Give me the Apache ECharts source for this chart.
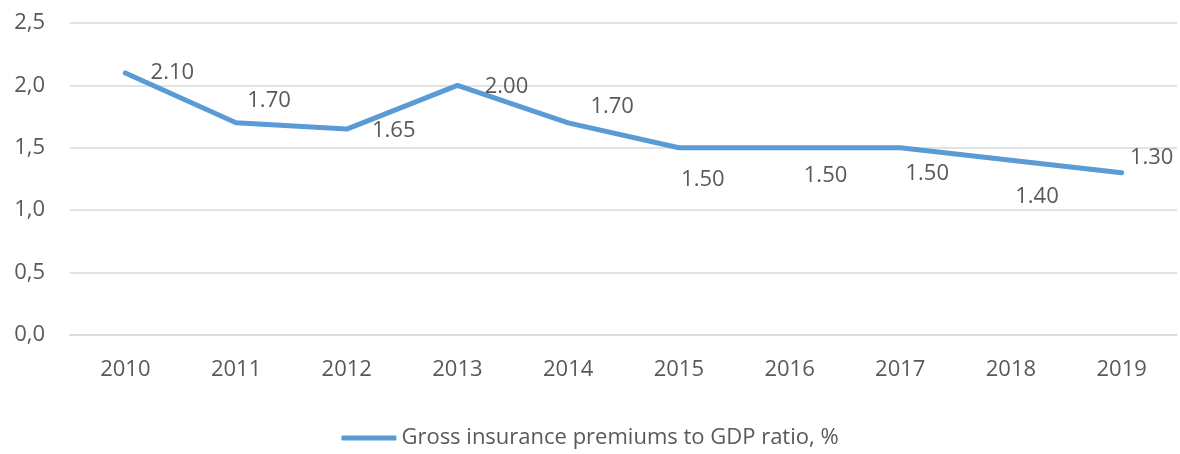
<!DOCTYPE html>
<html>
<head>
<meta charset="utf-8">
<script src="https://cdn.jsdelivr.net/npm/echarts@6/dist/echarts.min.js"></script>
<style>
  html, body { margin: 0; padding: 0; background: #fff; }
  #chart { width: 1180px; height: 454px; }
</style>
</head>
<body>
<div id="chart"></div>
<script>
// Gross insurance premiums to GDP ratio, 2010-2019
const years = ['2010', '2011', '2012', '2013', '2014', '2015', '2016', '2017', '2018', '2019'];
const ratioValues = [2.10, 1.70, 1.65, 2.00, 1.70, 1.50, 1.50, 1.50, 1.40, 1.30];
const seriesName = 'Gross insurance premiums to GDP ratio, %';

// label placement (pixel offsets from each point), as in the source chart
const labelOffsets = [
    [47, 0], [33, -22], [47, 2], [49, 1], [44, -16],
    [24, 32], [36, 28], [27, 26], [26, 36], [30, -15]
];

const textColor = '#595959';
const fontFamily = 'Open Sans, sans-serif';
const fontSize = 22;

const chart = echarts.init(document.getElementById('chart'), null, { renderer: 'canvas' });

chart.setOption({
    backgroundColor: '#ffffff',
    animation: false,
    grid: { left: 70, right: 3, top: 23, bottom: 119 },
    legend: {
        bottom: 0,
        left: 'center',
        icon: 'roundRect',
        itemWidth: 55,
        itemHeight: 5,
        textStyle: { color: textColor, fontFamily: fontFamily, fontSize: fontSize },
        data: [seriesName]
    },
    xAxis: {
        type: 'category',
        data: years,
        boundaryGap: true,
        axisLine: { show: true, lineStyle: { color: '#d9d9d9', width: 1.5 } },
        axisTick: { show: false },
        axisLabel: { color: textColor, fontFamily: fontFamily, fontSize: fontSize, margin: 24 }
    },
    yAxis: {
        type: 'value',
        min: 0,
        max: 2.5,
        interval: 0.5,
        axisLine: { show: false },
        axisTick: { show: false },
        axisLabel: {
            color: textColor, fontFamily: fontFamily, fontSize: fontSize, margin: 25,
            formatter: v => v.toFixed(1).replace('.', ',')
        },
        splitLine: { lineStyle: { color: '#d9d9d9', width: 1.5 } }
    },
    series: [{
        name: seriesName,
        type: 'line',
        data: ratioValues.map((v, i) => ({
            value: v,
            label: { offset: labelOffsets[i] }
        })),
        symbol: 'circle',
        symbolSize: 0.1,
        showSymbol: true,
        itemStyle: { color: '#5b9bd5' },
        lineStyle: { color: '#5b9bd5', width: 5, cap: 'round', join: 'round' },
        label: {
            show: true,
            position: 'inside',
            color: textColor,
            fontFamily: fontFamily,
            fontSize: fontSize,
            formatter: p => p.value.toFixed(2)
        }
    }]
});
</script>
</body>
</html>
